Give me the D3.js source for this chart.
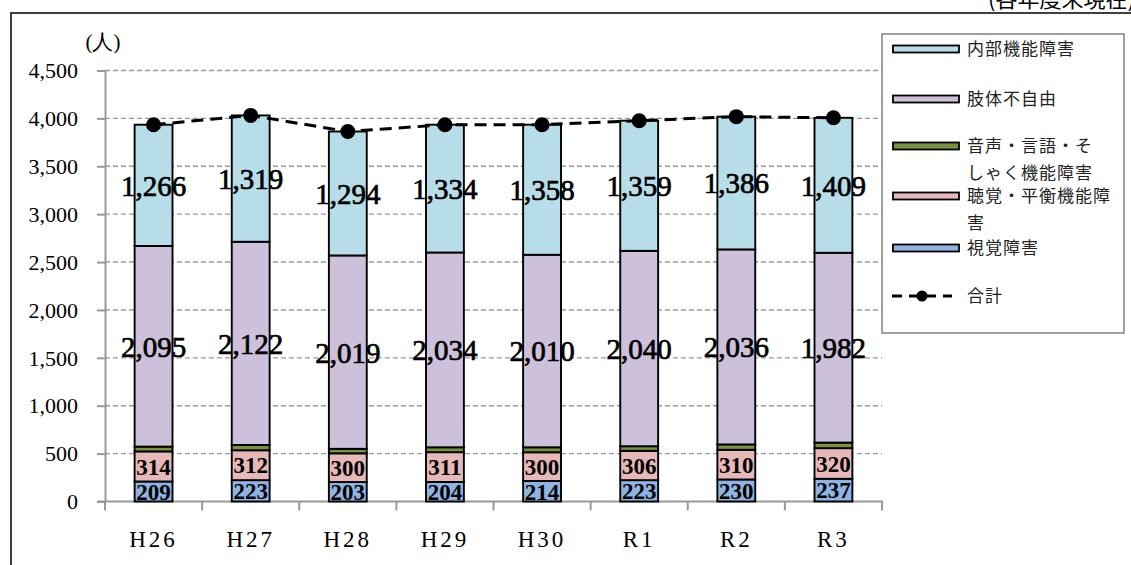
<!DOCTYPE html>
<html><head><meta charset="utf-8">
<script src="https://cdn.jsdelivr.net/npm/d3@7"></script>
<style>
html,body{margin:0;padding:0;background:#fff;overflow:hidden;}
svg{display:block;}
.serif{font-family:"Liberation Serif","DejaVu Serif",serif;}
.cjk{font-family:"Noto Sans CJK JP","Noto Sans",sans-serif;}
</style></head>
<body>
<svg id="chart" width="1131" height="565"></svg>
<script>
const categories = ["H26","H27","H28","H29","H30","R1","R2","R3"];
const visual   = [209, 223, 203, 204, 214, 223, 230, 237];
const hearing  = [314, 312, 300, 311, 300, 306, 310, 320];
const speech   = [50, 55, 47, 51, 52, 48, 56, 58];
const limb     = [2095, 2122, 2019, 2034, 2010, 2040, 2036, 1982];
const internal = [1266, 1319, 1294, 1334, 1358, 1359, 1386, 1409];
const seriesNames = ["視覚障害","聴覚・平衡機能障害","音声・言語・そしゃく機能障害","肢体不自由","内部機能障害"];
const totalName = "合計";
const yTicks = [0,500,1000,1500,2000,2500,3000,3500,4000,4500];
const unitLabel = "(人)";
const noteLabel = "(各年度末現在)";

const colors = ["#8DB4E2","#E6B9B8","#77933C","#CCC0DA","#B7DDE8"];
const seriesData = [visual, hearing, speech, limb, internal];
const showLabel = [true, true, false, true, true];

const svg = d3.select("#chart");

svg.append("rect").attr("x",11).attr("y",13).attr("width",1300).attr("height",700)
  .attr("fill","none").attr("stroke","#000").attr("stroke-width",1.5);
svg.append("text").attr("class","cjk").attr("x",988).attr("y",7).attr("font-size",22)
  .attr("fill","#000").text(noteLabel);

const x = d3.scaleBand().domain(categories).range([105,882]).paddingInner(0.61).paddingOuter(0.305);
const y = d3.scaleLinear().domain([0,4500]).range([501.5,70.5]);
const step = x.step();
const cx = c => x(c) + x.bandwidth()/2;

svg.append("g").selectAll("line").data(yTicks.filter(t=>t>0)).join("line")
  .attr("x1",105).attr("x2",882).attr("y1",d=>y(d)).attr("y2",d=>y(d))
  .attr("stroke","#9a9a9a").attr("stroke-width",1.4).attr("stroke-dasharray","5,3");

const yAxis = svg.append("g").attr("transform","translate(105,0)")
  .call(d3.axisLeft(y).tickValues(yTicks).tickSize(8).tickSizeOuter(0).tickFormat(d3.format(",")));
yAxis.attr("font-family",null);
yAxis.select(".domain").attr("stroke","#999").attr("stroke-width",2);
yAxis.selectAll(".tick line").attr("stroke","#999").attr("stroke-width",2);
yAxis.selectAll(".tick text").attr("class","serif").attr("x",-27).attr("dy","0.33em")
  .attr("font-size",22).attr("fill","#000");

const xAxis = svg.append("g").attr("transform","translate(0,501.5)")
  .call(d3.axisBottom(x).tickSize(0).tickSizeOuter(0));
xAxis.attr("font-family",null);
xAxis.select(".domain").attr("stroke","#999").attr("stroke-width",2).attr("d","M97,0H883");
xAxis.selectAll(".tick text").attr("class","serif").attr("y",45).attr("dy",0)
  .attr("font-size",23).attr("letter-spacing","3px").attr("fill","#000");
const bounds = categories.map(c => cx(c) - step/2).concat([cx(categories[categories.length-1]) + step/2]);
xAxis.append("g").selectAll("line").data(bounds).join("line")
  .attr("x1",d=>d).attr("x2",d=>d).attr("y1",0).attr("y2",9)
  .attr("stroke","#999").attr("stroke-width",2);

const rows = categories.map((c,i)=>{const r={cat:c}; seriesData.forEach((s,k)=>r["s"+k]=s[i]); return r;});
const stack = d3.stack().keys(seriesData.map((s,k)=>"s"+k))(rows);
const gBars = svg.append("g");
stack.forEach((layer,k)=>{
  gBars.append("g").selectAll("rect").data(layer).join("rect")
    .attr("x",d=>x(d.data.cat)).attr("width",x.bandwidth())
    .attr("y",d=>y(d[1])).attr("height",d=>y(d[0])-y(d[1]))
    .attr("fill",colors[k]).attr("stroke","#000").attr("stroke-width",1.9);
});

stack.forEach((layer,k)=>{
  if(!showLabel[k]) return;
  const big = k>=3;
  svg.append("g").selectAll("text").data(layer).join("text")
    .attr("class","serif")
    .attr("x",d=>cx(d.data.cat)).attr("y",d=>y((d[0]+d[1])/2))
    .attr("dy","0.36em")
    .attr("text-anchor","middle")
    .attr("font-size", big ? 29 : 23).attr("font-weight", big ? "normal" : "bold")
    .attr("fill","#000").attr("stroke", big ? "#000" : "none").attr("stroke-width", big ? 0.7 : 0)
    .text(d=>d3.format(",")(d[1]-d[0]));
});

const totals = categories.map((c,i)=>seriesData.reduce((a,s)=>a+s[i],0));
const line = d3.line().x((d,i)=>cx(categories[i])).y(d=>y(d));
svg.append("path").datum(totals).attr("d",line).attr("fill","none")
  .attr("stroke","#000").attr("stroke-width",3).attr("stroke-dasharray","12,7");
svg.append("g").selectAll("circle").data(totals).join("circle")
  .attr("cx",(d,i)=>cx(categories[i])).attr("cy",d=>y(d)).attr("r",7.5).attr("fill","#000");

svg.append("text").attr("class","serif").attr("x",103).attr("y",49).attr("text-anchor","middle")
  .attr("font-size",21).attr("fill","#000").text(unitLabel);

const lg = svg.append("g");
lg.append("rect").attr("x",882).attr("y",34).attr("width",242).attr("height",299)
  .attr("fill","#fff").attr("stroke","#808080").attr("stroke-width",1.5);
const legendItems = [
  {k:4, cy:49, lines:["内部機能障害"]},
  {k:3, cy:99, lines:["肢体不自由"]},
  {k:2, cy:146, lines:["音声・言語・そ","しゃく機能障害"]},
  {k:1, cy:196, lines:["聴覚・平衡機能障","害"]},
  {k:0, cy:248, lines:["視覚障害"]}
];
legendItems.forEach(it=>{
  lg.append("rect").attr("x",893).attr("y",it.cy-3.5).attr("width",66).attr("height",7)
    .attr("fill",colors[it.k]).attr("stroke","#000").attr("stroke-width",1.8);
  it.lines.forEach((t,j)=>{
    lg.append("text").attr("class","cjk").attr("x",967).attr("y",it.cy+6+j*26.5)
      .attr("font-size",17).attr("letter-spacing","1px").attr("fill","#222").text(t);
  });
});
lg.append("line").attr("x1",892).attr("x2",952).attr("y1",296).attr("y2",296)
  .attr("stroke","#000").attr("stroke-width",3).attr("stroke-dasharray","10,7");
lg.append("circle").attr("cx",922).attr("cy",296).attr("r",5.5).attr("fill","#000");
lg.append("text").attr("class","cjk").attr("x",967).attr("y",302)
  .attr("font-size",17).attr("letter-spacing","1px").attr("fill","#222").text(totalName);
</script>
</body></html>
